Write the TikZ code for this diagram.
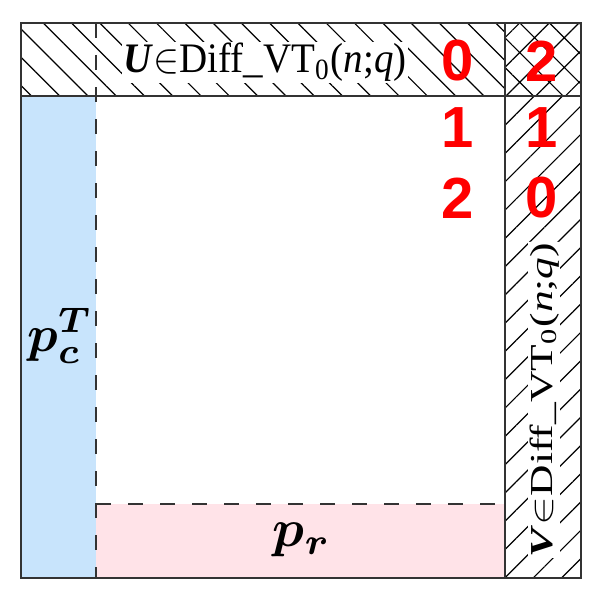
\documentclass[tikz,border=0pt]{standalone}
\usepackage{graphicx}
\usepackage{fontspec}
\setmainfont{Liberation Serif}
\newfontfamily\numfont{Liberation Sans}
\usepackage{bm}
\usetikzlibrary{patterns.meta}
\definecolor{colblue}{RGB}{200,228,252}
\definecolor{rowpink}{RGB}{255,227,232}
\definecolor{rulegray}{RGB}{51,51,51}
\newcommand{\vtname}[1]{\textbf{\textit{#1}}$\in$Diff\_VT\textsubscript{0}(\textit{n};\textit{q})}

\begin{document}
\begin{tikzpicture}[x=1pt,y=-1pt]
\tikzstyle{every node}=[inner sep=1pt]
\tikzstyle{num}=[text=red,font=\numfont\bfseries\fontsize{58}{58}\selectfont]
\tikzstyle{code}=[fill=white]
\tikzstyle{grid}=[draw=rulegray,line width=1.4pt]
\tikzstyle{cut}=[draw=rulegray,line width=1.6pt,dash pattern=on 15pt off 17pt]

\useasboundingbox (0,0) rectangle (598,602);

% coloured strips
\fill[colblue] (21,96) rectangle (96,578);
\fill[rowpink] (96,504) rectangle (505,578);

% hatched strips
\fill[pattern={Lines[angle=-45,distance=20pt,line width=1.2pt]}] (21,23) rectangle (505,96);
\fill[pattern={Lines[angle=45,distance=20pt,line width=1.2pt]}] (505,96) rectangle (581,578);
\fill[pattern={Hatch[angle=45,distance=21pt,line width=1.2pt]}] (505,23) rectangle (581,96);

% labels
\node[code,anchor=base] (U) at (265,73) {\scalebox{3.9}[4.2]{\vtname{U}}};
\node[code,anchor=base,rotate=90] (V) at (552,400) {\scalebox{4.35}[3.2]{\vtname{V}}};
\node (pc) at (60,336) {\scalebox{5.1}{$\bm{p_c^T}$}};
\node (pr) at (302,540) {\scalebox{5.3}{$\bm{p_r}$}};

% digits
\node[num] (u0) at (458,61) {0};
\node[num] (u1) at (458,128) {1};
\node[num] (u2) at (458,198) {2};
\node[num] (v2) at (542,61) {2};
\node[num] (v1) at (542,128) {1};
\node[num] (v0) at (542,198) {0};

% rules
\draw[cut] (96,23) -- (96,578);
\draw[cut] (96,504) -- (505,504);
\draw[grid] (21,96) -- (581,96);
\draw[grid] (505,23) -- (505,578);
\draw[grid] (21,23) rectangle (581,578);
\end{tikzpicture}
\end{document}
